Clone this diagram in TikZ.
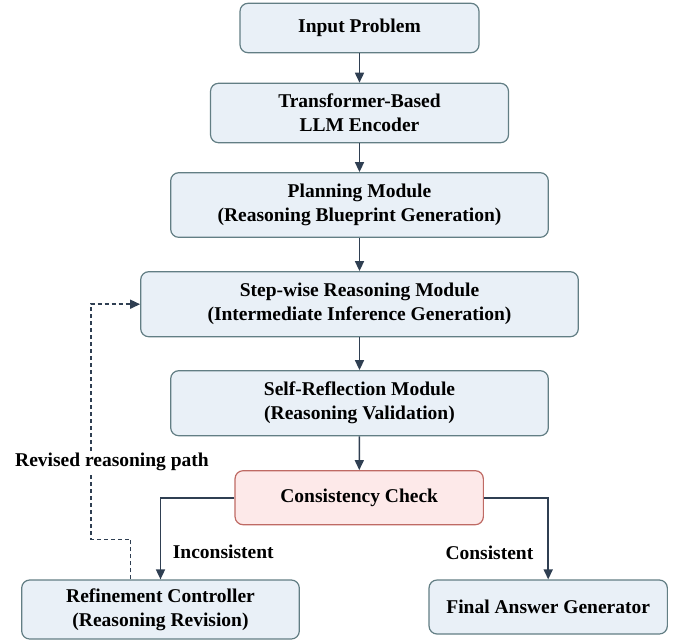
\documentclass[tikz,border=0pt]{standalone}
\usepackage{fontspec}
\setmainfont{Liberation Serif}
\usetikzlibrary{arrows.meta,calc}
\definecolor{boxfill}{HTML}{E9F0F7}
\definecolor{boxline}{HTML}{627E84}
\definecolor{redfill}{HTML}{FDE9E9}
\definecolor{redline}{HTML}{BF6A64}
\definecolor{arrowc}{HTML}{2F3F52}
\tikzset{
  blockbox/.style={draw=boxline, fill=boxfill, line width=1.2pt, rounded corners=8pt,
    align=center, inner sep=0pt, font=\fontsize{19.5}{24}\selectfont\bfseries},
  checkbox/.style={blockbox, draw=redline, fill=redfill},
  flowarrow/.style={draw=arrowc, line width=1.6pt, -{Triangle[length=10pt,width=9pt]}},
  backarrow/.style={flowarrow, dash pattern=on 4pt off 3pt},
  lbl/.style={font=\fontsize{19.5}{24}\selectfont\bfseries, inner sep=1pt, fill=white}
}
\begin{document}
\begin{tikzpicture}[x=1pt,y=-1pt]
\useasboundingbox (0,0) rectangle (681,641);
\node[blockbox, minimum width=239pt, minimum height=49.4pt] (inp) at (359.5,28) {Input Problem};
\node[blockbox, minimum width=298pt, minimum height=59.4pt] (enc) at (359.5,113) {Transformer-Based\\LLM Encoder};
\node[blockbox, minimum width=377.6pt, minimum height=64.6pt] (plan) at (359.5,205) {Planning Module\\(Reasoning Blueprint Generation)};
\node[blockbox, minimum width=437.6pt, minimum height=65pt] (step) at (359.5,304.2) {Step-wise Reasoning Module\\(Intermediate Inference Generation)};
\node[blockbox, minimum width=377.6pt, minimum height=65pt] (refl) at (359.5,403.2) {Self-Reflection Module\\(Reasoning Validation)};
\node[checkbox, minimum width=248.3pt, minimum height=54pt] (cc) at (359.2,497.7) {Consistency Check};
\node[blockbox, minimum width=277.6pt, minimum height=59pt] (ref) at (160.5,609.5) {Refinement Controller\\(Reasoning Revision)};
\node[blockbox, minimum width=238.3pt, minimum height=54pt] (fin) at (548.2,607) {Final Answer Generator};

\draw[flowarrow] (inp) -- (enc);
\draw[flowarrow] (enc) -- (plan);
\draw[flowarrow] (plan) -- (step);
\draw[flowarrow] (step) -- (refl);
\draw[flowarrow] (refl) -- (cc);
\draw[flowarrow] (cc.west) -| (ref.north);
\draw[flowarrow] (cc.east) -| (fin.north);

\coordinate (d1) at (90.7,539.3);
\draw[backarrow] ([xshift=-30pt]ref.north) |- (d1) |- (step.west);

\node[lbl, anchor=west] (rev) at (14,461.7) {Revised reasoning path};
\node[lbl, anchor=west, fill=none] (inc) at (171.7,551.7) {Inconsistent};
\node[lbl, anchor=east, fill=none] (con) at (534.5,552.7) {Consistent};
\end{tikzpicture}
\end{document}
